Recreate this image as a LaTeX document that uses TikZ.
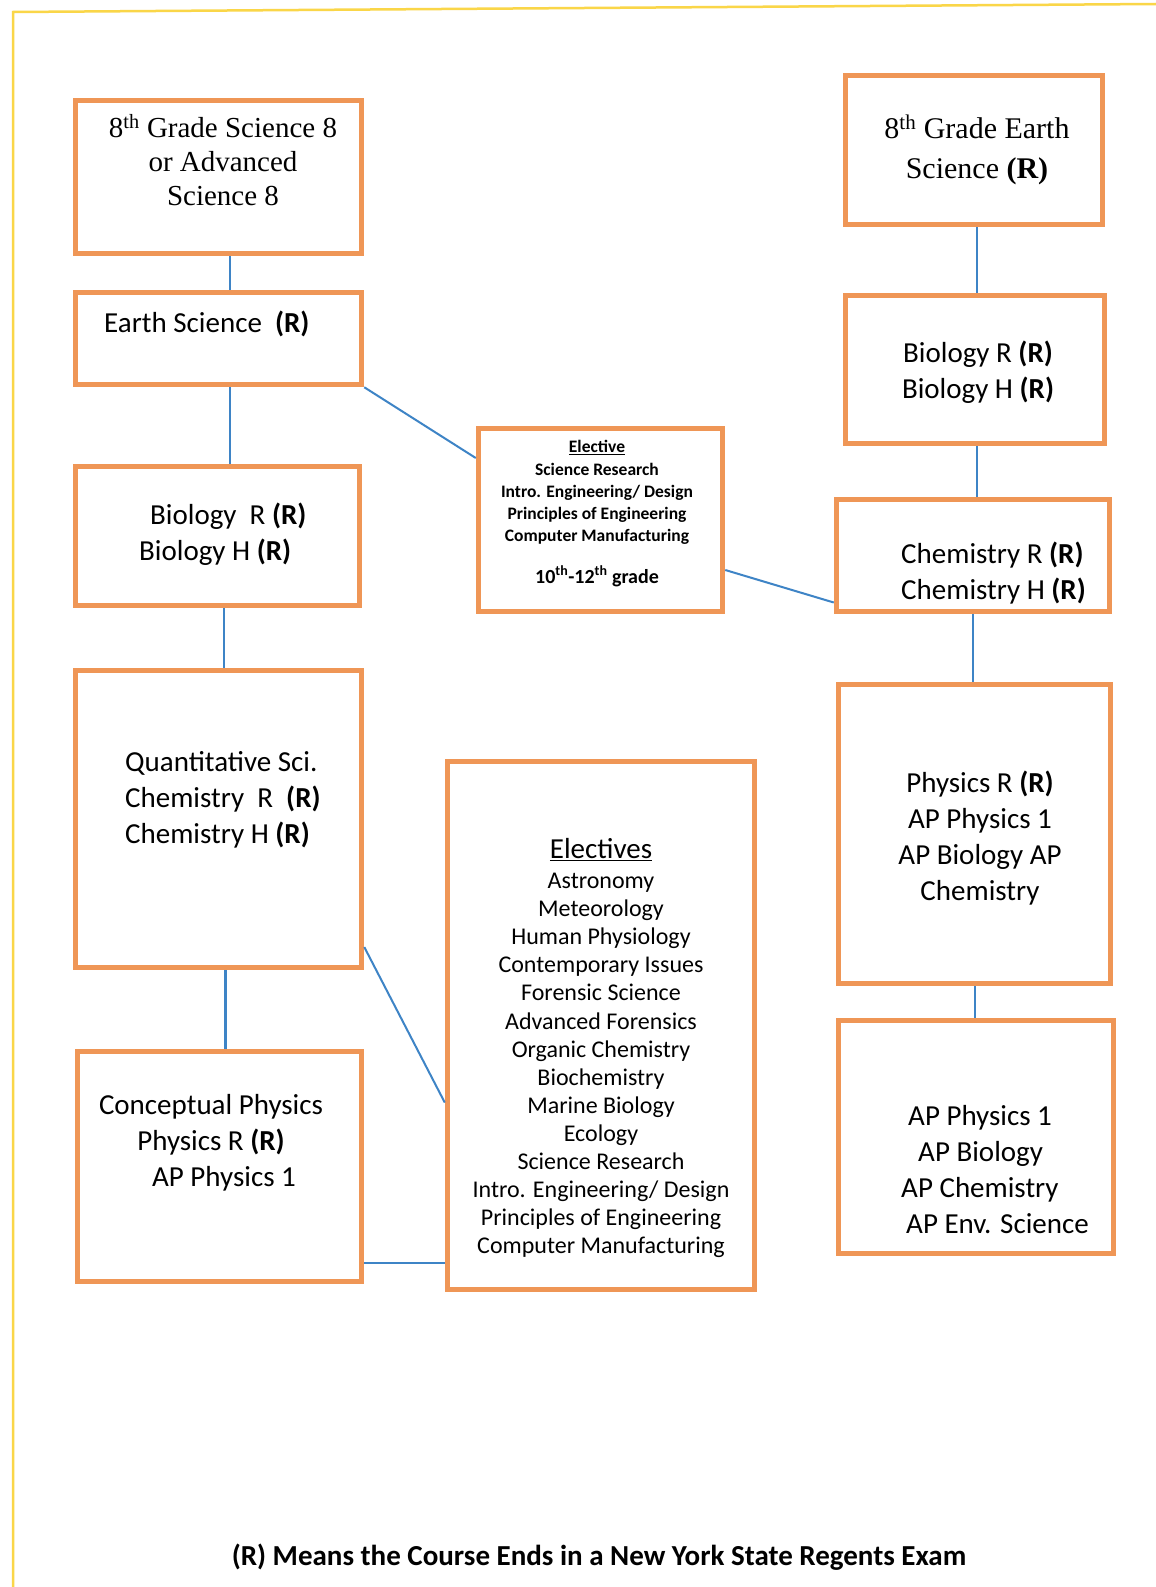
\documentclass[tikz,border=0pt]{standalone}
\usepackage{fontspec}
\setmainfont{Liberation Serif}
\newfontfamily\carlito{Carlito}
\usepackage{xcolor}
\definecolor{boxorange}{RGB}{239,150,86}
\definecolor{linkblue}{RGB}{62,132,198}
\definecolor{frameyellow}{RGB}{250,214,72}

\begin{document}
\begin{tikzpicture}[x=1pt,y=-1pt]
\tikzset{box/.style = {shape=rectangle,draw=boxorange,line width=5.5pt,inner sep=0pt}}
\tikzset{txt/.style = {inner sep=0pt,font=\carlito\fontsize{29}{36}\selectfont}}
\tikzset{serif/.style = {inner sep=0pt,align=center,font=\fontsize{29}{34}\selectfont}}
\tikzset{link/.style = {draw=linkblue,line width=2pt}}
\path[fill=white,use as bounding box] (0,0) rectangle (1156,1587);
\draw[frameyellow,line width=2.5pt] (13,1587) -- (13,12) -- (1156,4);

% boxes
\node[box,minimum width=286pt,minimum height=153pt] (sci8) at (218.5,177) {};
\node[box,minimum width=286pt,minimum height=92pt] (earth) at (218.5,338.5) {};
\node[box,minimum width=284pt,minimum height=139pt] (bio) at (217.5,536) {};
\node[box,minimum width=286pt,minimum height=297pt] (quant) at (218.5,819) {};
\node[box,minimum width=284pt,minimum height=230pt] (cphys) at (219.5,1166.5) {};
\node[box,minimum width=244pt,minimum height=183pt] (elec) at (600.5,520) {};
\node[box,minimum width=307pt,minimum height=528pt] (electives) at (601,1025.5) {};
\node[box,minimum width=257pt,minimum height=149pt] (earth8) at (974,150) {};
\node[box,minimum width=259pt,minimum height=148pt] (bioR) at (975,369.5) {};
\node[box,minimum width=273pt,minimum height=112pt] (chemR) at (973,555.5) {};
\node[box,minimum width=272pt,minimum height=299pt] (physR) at (974.5,834) {};
\node[box,minimum width=275pt,minimum height=233pt] (ap) at (976,1137) {};

% texts
\node[serif] (sci8t) at (223,160) {8\textsuperscript{th} Grade Science 8\\or Advanced\\Science 8};
\node[txt,anchor=west] (eartht) at (104,324) {Earth Science~~\textbf{(R)}};
\node[txt,anchor=west,align=left] (biot) at (139,534.5) {\hspace*{11pt}Biology~~R \textbf{(R)}\\Biology H \textbf{(R)}};
\node[txt,anchor=west,align=left] (quantt) at (125,800) {Quantitative Sci.\\Chemistry~~R~~\textbf{(R)}\\Chemistry H \textbf{(R)}};
\node[txt,align=center] (cphyst) at (211,1143) {Conceptual Physics\\Physics R \textbf{(R)}\\\hspace*{26pt}AP Physics 1};
\node[txt,align=center,font=\carlito\bfseries\fontsize{17.5}{22.3}\selectfont] (elect) at (597,513.5)
  {\underline{Elective}\\Science Research\\Intro. Engineering/ Design\\Principles of Engineering\\Computer Manufacturing\\[19pt]
   {\fontsize{20}{24}\selectfont 10\textsuperscript{th}-12\textsuperscript{th} grade}};
\node[txt] (electivesh) at (601,850) {\underline{Electives}};
\node[txt,align=center,font=\carlito\fontsize{24}{28.1}\selectfont] (electivesl) at (601,1065.5)
  {Astronomy\\Meteorology\\Human Physiology\\Contemporary Issues\\Forensic Science\\Advanced Forensics\\Organic Chemistry\\Biochemistry\\Marine Biology\\Ecology\\Science Research\\Intro. Engineering/ Design\\Principles of Engineering\\Computer Manufacturing};
\node[serif,font=\fontsize{30}{40}\selectfont] (earth8t) at (977,150) {8\textsuperscript{th} Grade Earth\\Science \textbf{(R)}};
\node[txt,align=center] (bioRt) at (978,372) {Biology R \textbf{(R)}\\Biology H \textbf{(R)}};
\node[txt,anchor=west,align=left] (chemRt) at (901,573) {Chemistry R \textbf{(R)}\\Chemistry H \textbf{(R)}};
\node[txt,align=center] (physRt) at (980,838.5) {Physics R \textbf{(R)}\\AP Physics 1\\AP Biology AP\\Chemistry};
\node[txt,anchor=west,align=left] (apt) at (901,1170) {\hspace*{7pt}AP Physics 1\\\hspace*{17pt}AP Biology\\AP Chemistry\\\hspace*{5pt}AP Env. Science};
\node[inner sep=0pt,font=\carlito\bfseries\fontsize{29}{34}\selectfont] (note) at (599,1557) {(R) Means the Course Ends in a New York State Regents Exam};

% links
\draw[link] ([xshift=11.5pt]sci8.south) to ([xshift=11.5pt]earth.north);
\draw[link] ([xshift=11.5pt]earth.south) to ([xshift=11.5pt]earth.south |- bio.north);
\draw[link] ([xshift=6pt]bio.south) to ([xshift=6pt]bio.south |- quant.north);
\draw[link,line width=3.5pt] ([xshift=7pt]quant.south) to ([xshift=7pt]quant.south |- cphys.north);
\draw[link] (earth.south east) to ([yshift=62pt]elec.west);
\draw[link] ([yshift=-50pt]elec.east) to ([yshift=-47pt]chemR.west);
\draw[link] ([yshift=-128pt]quant.east) to ([yshift=-77pt]electives.west);
\draw[link] ([yshift=-96pt]cphys.east) to ([yshift=-96pt]cphys.east -| electives.west);
\draw[link] ([xshift=3pt]earth8.south) to ([xshift=3pt]earth8.south |- bioR.north);
\draw[link] ([xshift=2pt]bioR.south) to ([xshift=2pt]bioR.south |- chemR.north);
\draw[link] (chemR.south) to (chemR.south |- physR.north);
\draw[link] (physR.south) to (physR.south |- ap.north);
\end{tikzpicture}
\end{document}
